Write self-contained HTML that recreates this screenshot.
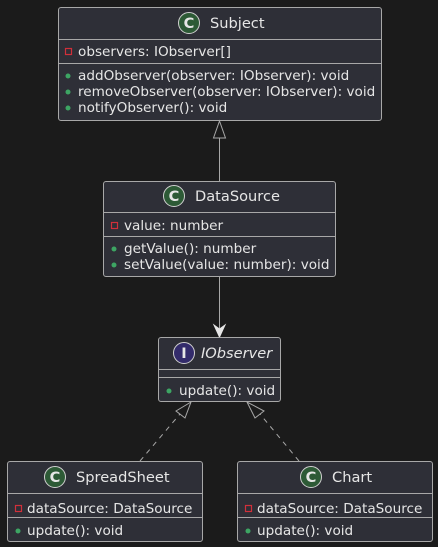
<!DOCTYPE html>
<html><head><style>
body{margin:0;background:#1b1b1b}
svg{display:block}
text{font-family:"DejaVu Sans","Liberation Sans",sans-serif;font-size:13.6px;fill:#e6e6e6}
.t{font-size:14.6px}
.b{fill:#2e2f37;stroke:#a8a8a8;stroke-width:1}
.l{stroke:#a8a8a8;stroke-width:1}
.r{fill:none;stroke:#d0303a;stroke-width:1.2}
</style></head><body>
<svg width="438" height="547" viewBox="0 0 438 547">
<rect width="438" height="547" fill="#1b1b1b"/>
<!-- Subject -->
<rect class="b" x="58.5" y="7.5" width="323" height="113" rx="2.5"/>
<line class="l" x1="58.5" y1="39.5" x2="381.5" y2="39.5"/>
<line class="l" x1="58.5" y1="63.5" x2="381.5" y2="63.5"/>
<circle cx="189" cy="23" r="10.5" fill="#2d5a36" stroke="#d0d0d0"/>
<text x="189" y="28" text-anchor="middle" class="t" style="font-weight:bold">C</text>
<text x="210" y="28" class="t">Subject</text>
<rect x="65.5" y="48.5" width="6" height="6" class="r"/>
<text x="78" y="56">observers: IObserver[]</text>
<circle cx="68" cy="76" r="2.5" fill="#3da563"/><text x="78" y="80">addObserver(observer: IObserver): void</text>
<circle cx="68" cy="92" r="2.5" fill="#3da563"/><text x="78" y="96">removeObserver(observer: IObserver): void</text>
<circle cx="68" cy="108" r="2.5" fill="#3da563"/><text x="78" y="112">notifyObserver(): void</text>
<!-- inheritance -->
<line class="l" x1="219.5" y1="138" x2="219.5" y2="181"/>
<polygon points="219.5,121 213.5,138 225.5,138" fill="#1b1b1b" stroke="#a8a8a8"/>
<!-- DataSource -->
<rect class="b" x="103.5" y="181.5" width="232" height="95" rx="2.5"/>
<line class="l" x1="103.5" y1="212.5" x2="335.5" y2="212.5"/>
<line class="l" x1="103.5" y1="236.5" x2="335.5" y2="236.5"/>
<circle cx="174" cy="196" r="10.5" fill="#2d5a36" stroke="#d0d0d0"/>
<text x="174" y="201" text-anchor="middle" class="t" style="font-weight:bold">C</text>
<text x="195" y="201" class="t">DataSource</text>
<rect x="111.5" y="222.5" width="6" height="6" class="r"/>
<text x="124" y="230">value: number</text>
<circle cx="114" cy="249" r="2.5" fill="#3da563"/><text x="124" y="253">getValue(): number</text>
<circle cx="114" cy="265" r="2.5" fill="#3da563"/><text x="124" y="269">setValue(value: number): void</text>
<!-- assoc -->
<line class="l" x1="219.5" y1="277" x2="219.5" y2="335"/>
<polygon points="219.5,337 214,325 219.5,329 225,325" fill="#e6e6e6" stroke="#e6e6e6"/>
<!-- IObserver -->
<rect class="b" x="158.5" y="337.5" width="122" height="64" rx="2.5"/>
<line class="l" x1="158.5" y1="369.5" x2="280.5" y2="369.5"/>
<line class="l" x1="158.5" y1="377.5" x2="280.5" y2="377.5"/>
<circle cx="184" cy="353" r="10.5" fill="#332b6b" stroke="#d0d0d0"/>
<text x="184" y="358" text-anchor="middle" class="t" style="font-weight:bold">I</text>
<text x="201" y="358" class="t" style="font-style:italic">IObserver</text>
<circle cx="169" cy="391" r="2.5" fill="#3da563"/><text x="179" y="395">update(): void</text>
<!-- realization -->
<line class="l" x1="140" y1="461" x2="180" y2="414" stroke-dasharray="5,5"/>
<polygon points="191,402 176,411 185,418" fill="#1b1b1b" stroke="#a8a8a8"/>
<line class="l" x1="299" y1="461" x2="260" y2="414" stroke-dasharray="5,5"/>
<polygon points="247,402 255,418 264,411" fill="#1b1b1b" stroke="#a8a8a8"/>
<!-- SpreadSheet -->
<rect class="b" x="7.5" y="461.5" width="195" height="80" rx="2.5"/>
<line class="l" x1="7.5" y1="493.5" x2="202.5" y2="493.5"/>
<line class="l" x1="7.5" y1="517.5" x2="202.5" y2="517.5"/>
<circle cx="55" cy="477" r="10.5" fill="#2d5a36" stroke="#d0d0d0"/>
<text x="55" y="482" text-anchor="middle" class="t" style="font-weight:bold">C</text>
<text x="76" y="482" class="t">SpreadSheet</text>
<rect x="15.5" y="505.5" width="6" height="6" class="r"/>
<text x="27" y="513">dataSource: DataSource</text>
<circle cx="18" cy="531" r="2.5" fill="#3da563"/><text x="27" y="535">update(): void</text>
<!-- Chart -->
<rect class="b" x="237.5" y="461.5" width="195" height="80" rx="2.5"/>
<line class="l" x1="237.5" y1="493.5" x2="432.5" y2="493.5"/>
<line class="l" x1="237.5" y1="517.5" x2="432.5" y2="517.5"/>
<circle cx="311" cy="477" r="10.5" fill="#2d5a36" stroke="#d0d0d0"/>
<text x="311" y="482" text-anchor="middle" class="t" style="font-weight:bold">C</text>
<text x="332" y="482" class="t">Chart</text>
<rect x="245.5" y="505.5" width="6" height="6" class="r"/>
<text x="257" y="513">dataSource: DataSource</text>
<circle cx="248" cy="531" r="2.5" fill="#3da563"/><text x="257" y="535">update(): void</text>
</svg>
</body></html>
